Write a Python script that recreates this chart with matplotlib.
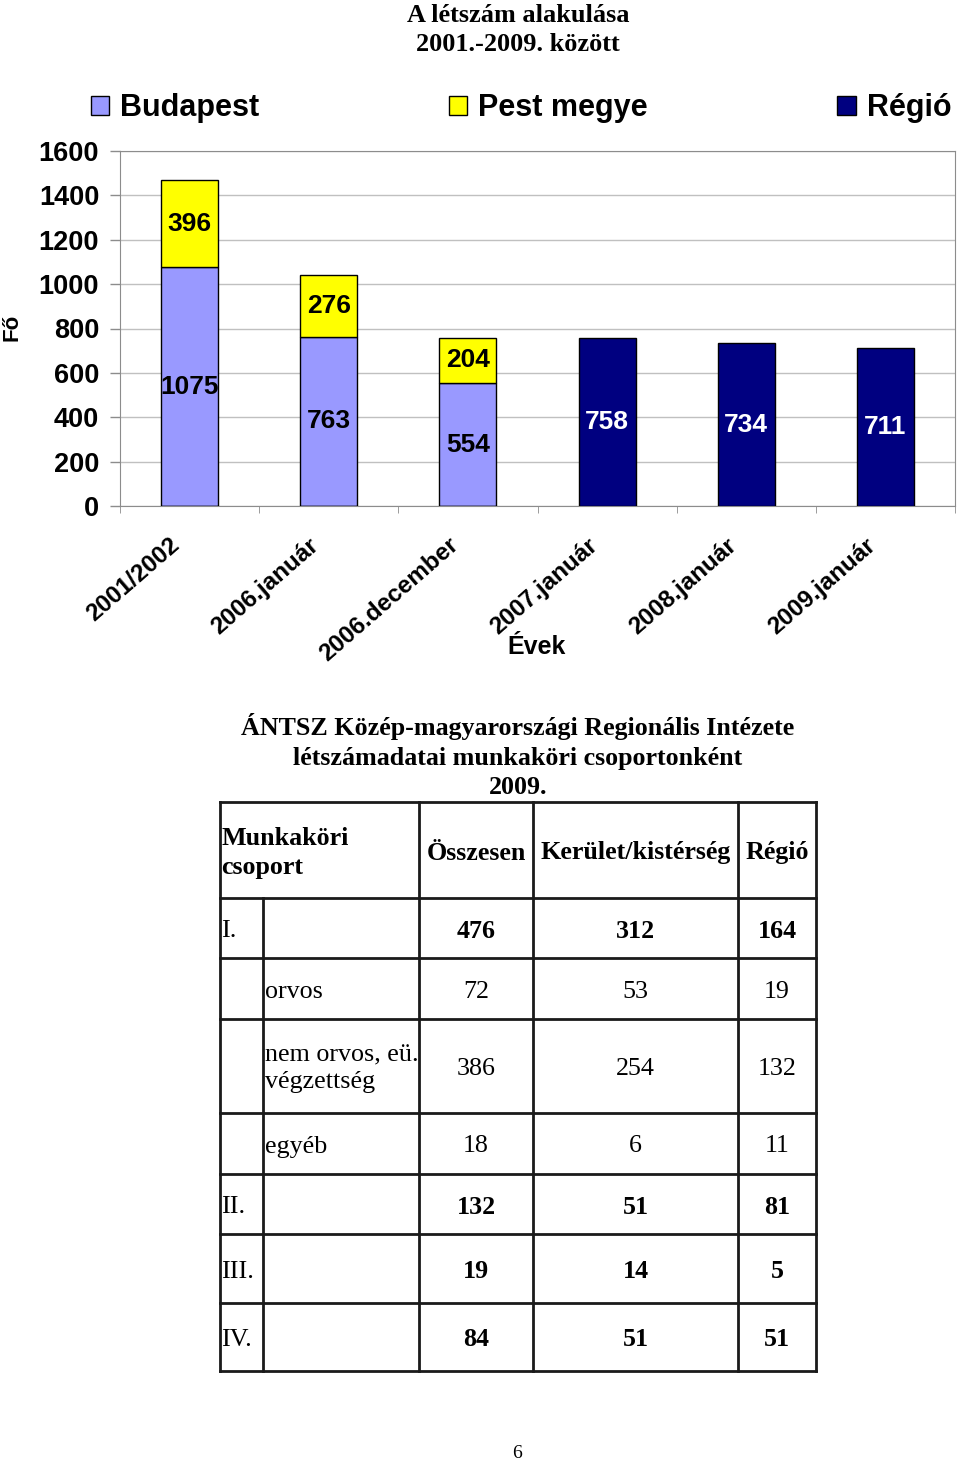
import numpy as np
import matplotlib
matplotlib.use("Agg")
import matplotlib.pyplot as plt
from matplotlib.patches import Patch
from matplotlib.transforms import ScaledTranslation

# chart data
categories = ["2001/2002", "2006.január", "2006.december", "2007.január", "2008.január", "2009.január"]
budapest = [1075, 763, 554, 0, 0, 0]
pest_megye = [396, 276, 204, 0, 0, 0]
regio = [0, 0, 0, 758, 734, 711]

# table data
group_labels = ["I.", "", "", "", "II.", "III.", "IV."]
sub_labels = ["", "orvos", "nem orvos, eü.\nvégzettség", "egyéb", "", "", ""]
osszesen = [476, 72, 386, 18, 132, 19, 84]
kerulet = [312, 53, 254, 6, 51, 14, 51]
regio_tab = [164, 19, 132, 11, 81, 5, 51]
bold_rows = [True, False, False, False, True, True, True]
headers = ["Munkaköri\ncsoport", "Összesen", "Kerület/kistérség", "Régió"]

SANS = "Liberation Sans"
SERIF = "Liberation Serif"

W, H = 960, 1461
fig = plt.figure(figsize=(W / 100, H / 100), dpi=100)

# ---- chart ----
ax = fig.add_axes([120 / W, 1 - 506 / H, 835 / W, 355 / H])
x = np.arange(len(categories))
bw = 0.41

def labels_for(vals):
    return [str(v) if v else "" for v in vals]

b1 = ax.bar(x, budapest, bw, color="#9999ff", edgecolor="black", linewidth=1, zorder=3)
b2 = ax.bar(x, pest_megye, bw, bottom=budapest, color="#ffff00", edgecolor="black", linewidth=1, zorder=3)
b3 = ax.bar(x, regio, bw, color="#000080", edgecolor="black", linewidth=1, zorder=3)
lab_font = dict(family=SANS, weight="bold", size=19)
ax.bar_label(b1, labels=labels_for(budapest), label_type="center", fontproperties=lab_font, color="black")
ax.bar_label(b2, labels=labels_for(pest_megye), label_type="center", fontproperties=lab_font, color="black")
ax.bar_label(b3, labels=labels_for(regio), label_type="center", fontproperties=lab_font, color="white")

ax.set_xlim(-0.5, len(categories) - 0.5)
ax.set_ylim(0, 1600)
ax.set_yticks(range(0, 1601, 200))
ax.yaxis.grid(True, color="#c0c0c0", linewidth=1)
ax.set_axisbelow(True)
for s in ax.spines.values():
    s.set_color("#8c8c8c")
ax.tick_params(axis="y", length=7, width=1, color="#8c8c8c", pad=8)
for t in ax.get_yticklabels():
    t.set_fontproperties(dict(family=SANS, weight="bold", size=19.5))

ax.set_xticks(x)
ax.set_xticks(np.arange(-0.5, len(categories), 1), minor=True)
ax.tick_params(axis="x", which="major", length=0, pad=26)
ax.tick_params(axis="x", which="minor", length=5, color="#8c8c8c")
ax.set_xticklabels(categories, rotation=41, ha="right", va="center", rotation_mode="anchor")
off = ScaledTranslation(-13 / 100, 0, fig.dpi_scale_trans)
for t in ax.get_xticklabels():
    t.set_fontproperties(dict(family=SANS, weight="bold", size=17.5))
    t.set_transform(t.get_transform() + off)

fig.text(537 / W, 1 - 647 / H, "Évek", ha="center", va="center", family=SANS, weight="bold", size=18)
fig.text(12 / W, 1 - 327 / H, "Fő", ha="center", va="center", rotation=90, family=SANS, weight="bold", size=16)

handles = [Patch(facecolor=c, edgecolor="black", linewidth=1) for c in ["#9999ff", "#ffff00", "#000080"]]
fig.legend(handles, ["Budapest", "Pest megye", "Régió"], loc="center left",
           bbox_to_anchor=(91 / W, 1 - 108 / H), ncol=3, frameon=False,
           prop=dict(family=SANS, weight="bold", size=22),
           handlelength=0.6, handleheight=0.6, handletextpad=0.36,
           columnspacing=6.2, borderpad=0, borderaxespad=0)

fig.text(518 / W, 1 - 30 / H, "A létszám alakulása\n2001.-2009. között", ha="center", va="center",
         family=SERIF, weight="bold", size=18.9, linespacing=1.29)

# ---- table ----
tab = fig.add_axes([0, 0, 1, 1])
tab.set_xlim(0, W)
tab.set_ylim(H, 0)
tab.axis("off")

FS = 18.7
LS = 1.29
dy = 3

tab.text(518, 756, "ÁNTSZ Közép-magyarországi Regionális Intézete\nlétszámadatai munkaköri csoportonként\n2009.",
         ha="center", va="center", family=SERIF, weight="bold", size=FS, linespacing=1.36)

col_x = [220, 263, 419, 533, 738, 816]
row_y = [802, 898, 958, 1019, 1113, 1174, 1234, 1303, 1371]
lc = "#1a1a1a"
for y in row_y:
    tab.plot([col_x[0], col_x[-1]], [y, y], color=lc, lw=2, solid_capstyle="projecting")
for cx in [col_x[0]] + col_x[2:]:
    tab.plot([cx, cx], [row_y[0], row_y[-1]], color=lc, lw=2)
tab.plot([col_x[1], col_x[1]], [row_y[1], row_y[-1]], color=lc, lw=2)

centers = [(col_x[i] + col_x[i + 1]) / 2 for i in range(2, 5)]
hy = (row_y[0] + row_y[1]) / 2 + dy
hfont = dict(family=SERIF, weight="bold", size=FS)
tab.text(col_x[0] + 1, hy, headers[0], ha="left", va="center", linespacing=LS, **hfont)
for cx, h in zip(centers, headers[1:]):
    tab.text(cx, hy, h, ha="center", va="center", **hfont)

for i in range(len(group_labels)):
    yc = (row_y[i + 1] + row_y[i + 2]) / 2 + dy
    tab.text(col_x[0] + 1, yc, group_labels[i], ha="left", va="center", family=SERIF, size=FS)
    tab.text(col_x[1] + 2, yc, sub_labels[i], ha="left", va="center", family=SERIF, size=FS, linespacing=LS)
    wt = "bold" if bold_rows[i] else "normal"
    for cx, v in zip(centers, [osszesen[i], kerulet[i], regio_tab[i]]):
        tab.text(cx, yc, str(v), ha="center", va="center", family=SERIF, weight=wt, size=FS)

tab.text(517, 1453, "6", ha="center", va="center", family=SERIF, size=14)

fig.savefig("out.png", dpi=100)
